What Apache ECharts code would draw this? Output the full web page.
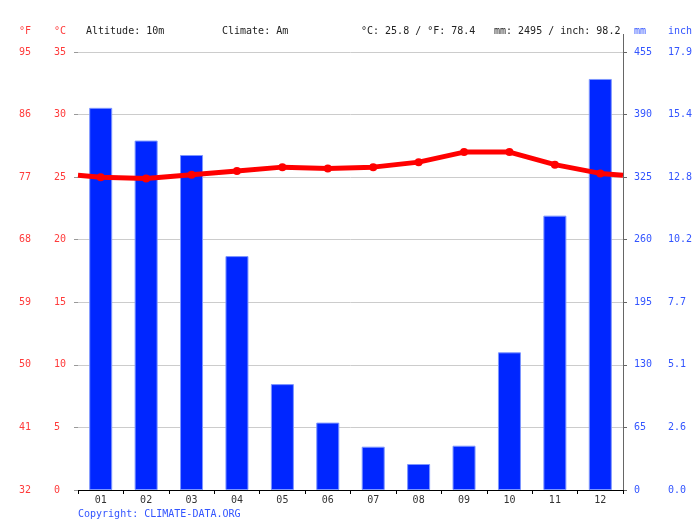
<!DOCTYPE html>
<html>
<head>
<meta charset="utf-8">
<script src="https://cdn.jsdelivr.net/npm/echarts@6/dist/echarts.min.js"></script>
<style>html,body{margin:0;padding:0;background:#fff}#c{width:700px;height:524px}</style>
</head>
<body>
<div id="c"></div>
<script>
var months = ['01','02','03','04','05','06','07','08','09','10','11','12'];
var precipMM = [397, 363, 348, 243, 110, 70, 45, 27, 46, 143, 285, 427];
var tempC = [25.0, 24.9, 25.2, 25.5, 25.8, 25.7, 25.8, 26.2, 27.0, 27.0, 26.0, 25.3];
var fLabels = ['32','41','50','59','68','77','86','95'];
var inchLabels = ['0.0','2.6','5.1','7.7','10.2','12.8','15.4','17.9'];
var headerTexts = ['Altitude: 10m', 'Climate: Am', '°C: 25.8 / °F: 78.4', 'mm: 2495 / inch: 98.2'];

var edge = (tempC[0] + tempC[11]) / 2;
var lineData = [{value: [0.5, edge], symbol: 'none'}];
tempC.forEach(function (t, i) { lineData.push({value: [i + 1, t]}); });
lineData.push({value: [12.5, edge], symbol: 'none'});

var mono = 'DejaVu Sans Mono';
var red = '#ff3b3b';
var blue = '#3355ff';

var chart = echarts.init(document.getElementById('c'), null, {renderer: 'canvas'});
chart.setOption({
  animation: false,
  backgroundColor: '#fff',
  grid: {left: 78, right: 77, top: 52, bottom: 34, containLabel: false},
  xAxis: [
    {type: 'category', data: months, boundaryGap: true,
     axisLine: {show: true, lineStyle: {color: '#000', width: 1}},
     axisTick: {show: true, length: 4, lineStyle: {color: '#000'}},
     axisLabel: {color: '#333', fontFamily: mono, fontSize: 10, margin: 5},
     splitLine: {show: false}},
    {type: 'value', min: 0.5, max: 12.5, show: false}
  ],
  yAxis: [
    {type: 'value', position: 'left', min: 0, max: 35, interval: 5,
     axisLine: {show: false},
     axisTick: {show: true, length: 4, lineStyle: {color: '#999'}},
     splitLine: {show: true, lineStyle: {color: '#cccccc', width: 1}},
     axisLabel: {color: red, fontFamily: mono, fontSize: 10, align: 'left', margin: 24}},
    {type: 'value', position: 'left', min: 0, max: 35, interval: 5,
     axisLine: {show: false}, axisTick: {show: false}, splitLine: {show: false},
     axisLabel: {color: red, fontFamily: mono, fontSize: 10, align: 'left', margin: 59,
       formatter: function (v, i) { return fLabels[i]; }}},
    {type: 'value', position: 'right', min: 0, max: 455, interval: 65,
     axisLine: {show: true, lineStyle: {color: '#666', width: 1}},
     axisTick: {show: true, length: 4, lineStyle: {color: '#666'}},
     splitLine: {show: false},
     axisLabel: {color: blue, fontFamily: mono, fontSize: 10, align: 'left', margin: 11}},
    {type: 'value', position: 'right', min: 0, max: 455, interval: 65,
     axisLine: {show: false}, axisTick: {show: false}, splitLine: {show: false},
     axisLabel: {color: blue, fontFamily: mono, fontSize: 10, align: 'left', margin: 45,
       formatter: function (v, i) { return inchLabels[i]; }}}
  ],
  series: [
    {type: 'bar', name: 'mm', xAxisIndex: 0, yAxisIndex: 2, data: precipMM,
     barWidth: 23,
     itemStyle: {color: '#0026ff', borderColor: '#7d96ff', borderWidth: 1},
     z: 2},
    {type: 'line', name: '°C', xAxisIndex: 1, yAxisIndex: 0, data: lineData,
     symbol: 'circle', symbolSize: 8, smooth: false,
     lineStyle: {color: '#ff0000', width: 5},
     itemStyle: {color: '#ff0000'},
     z: 3}
  ],
  graphic: [
    {type: 'text', left: 19, top: 26, style: {text: '°F', fill: red, font: '10px ' + mono}},
    {type: 'text', left: 54, top: 26, style: {text: '°C', fill: red, font: '10px ' + mono}},
    {type: 'text', left: 86, top: 26, style: {text: headerTexts[0], fill: '#222', font: '10px ' + mono}},
    {type: 'text', left: 222, top: 26, style: {text: headerTexts[1], fill: '#222', font: '10px ' + mono}},
    {type: 'text', left: 361, top: 26, style: {text: headerTexts[2], fill: '#222', font: '10px ' + mono}},
    {type: 'text', left: 494, top: 26, style: {text: headerTexts[3], fill: '#222', font: '10px ' + mono}},
    {type: 'text', left: 634, top: 26, style: {text: 'mm', fill: blue, font: '10px ' + mono}},
    {type: 'text', left: 668, top: 26, style: {text: 'inch', fill: blue, font: '10px ' + mono}},
    {type: 'text', left: 78, top: 509, style: {text: 'Copyright: CLIMATE-DATA.ORG', fill: blue, font: '10px ' + mono}},
    {type: 'line', shape: {x1: 623.5, y1: 34, x2: 623.5, y2: 52}, style: {stroke: '#666', lineWidth: 1}}
  ]
});
</script>
</body>
</html>
